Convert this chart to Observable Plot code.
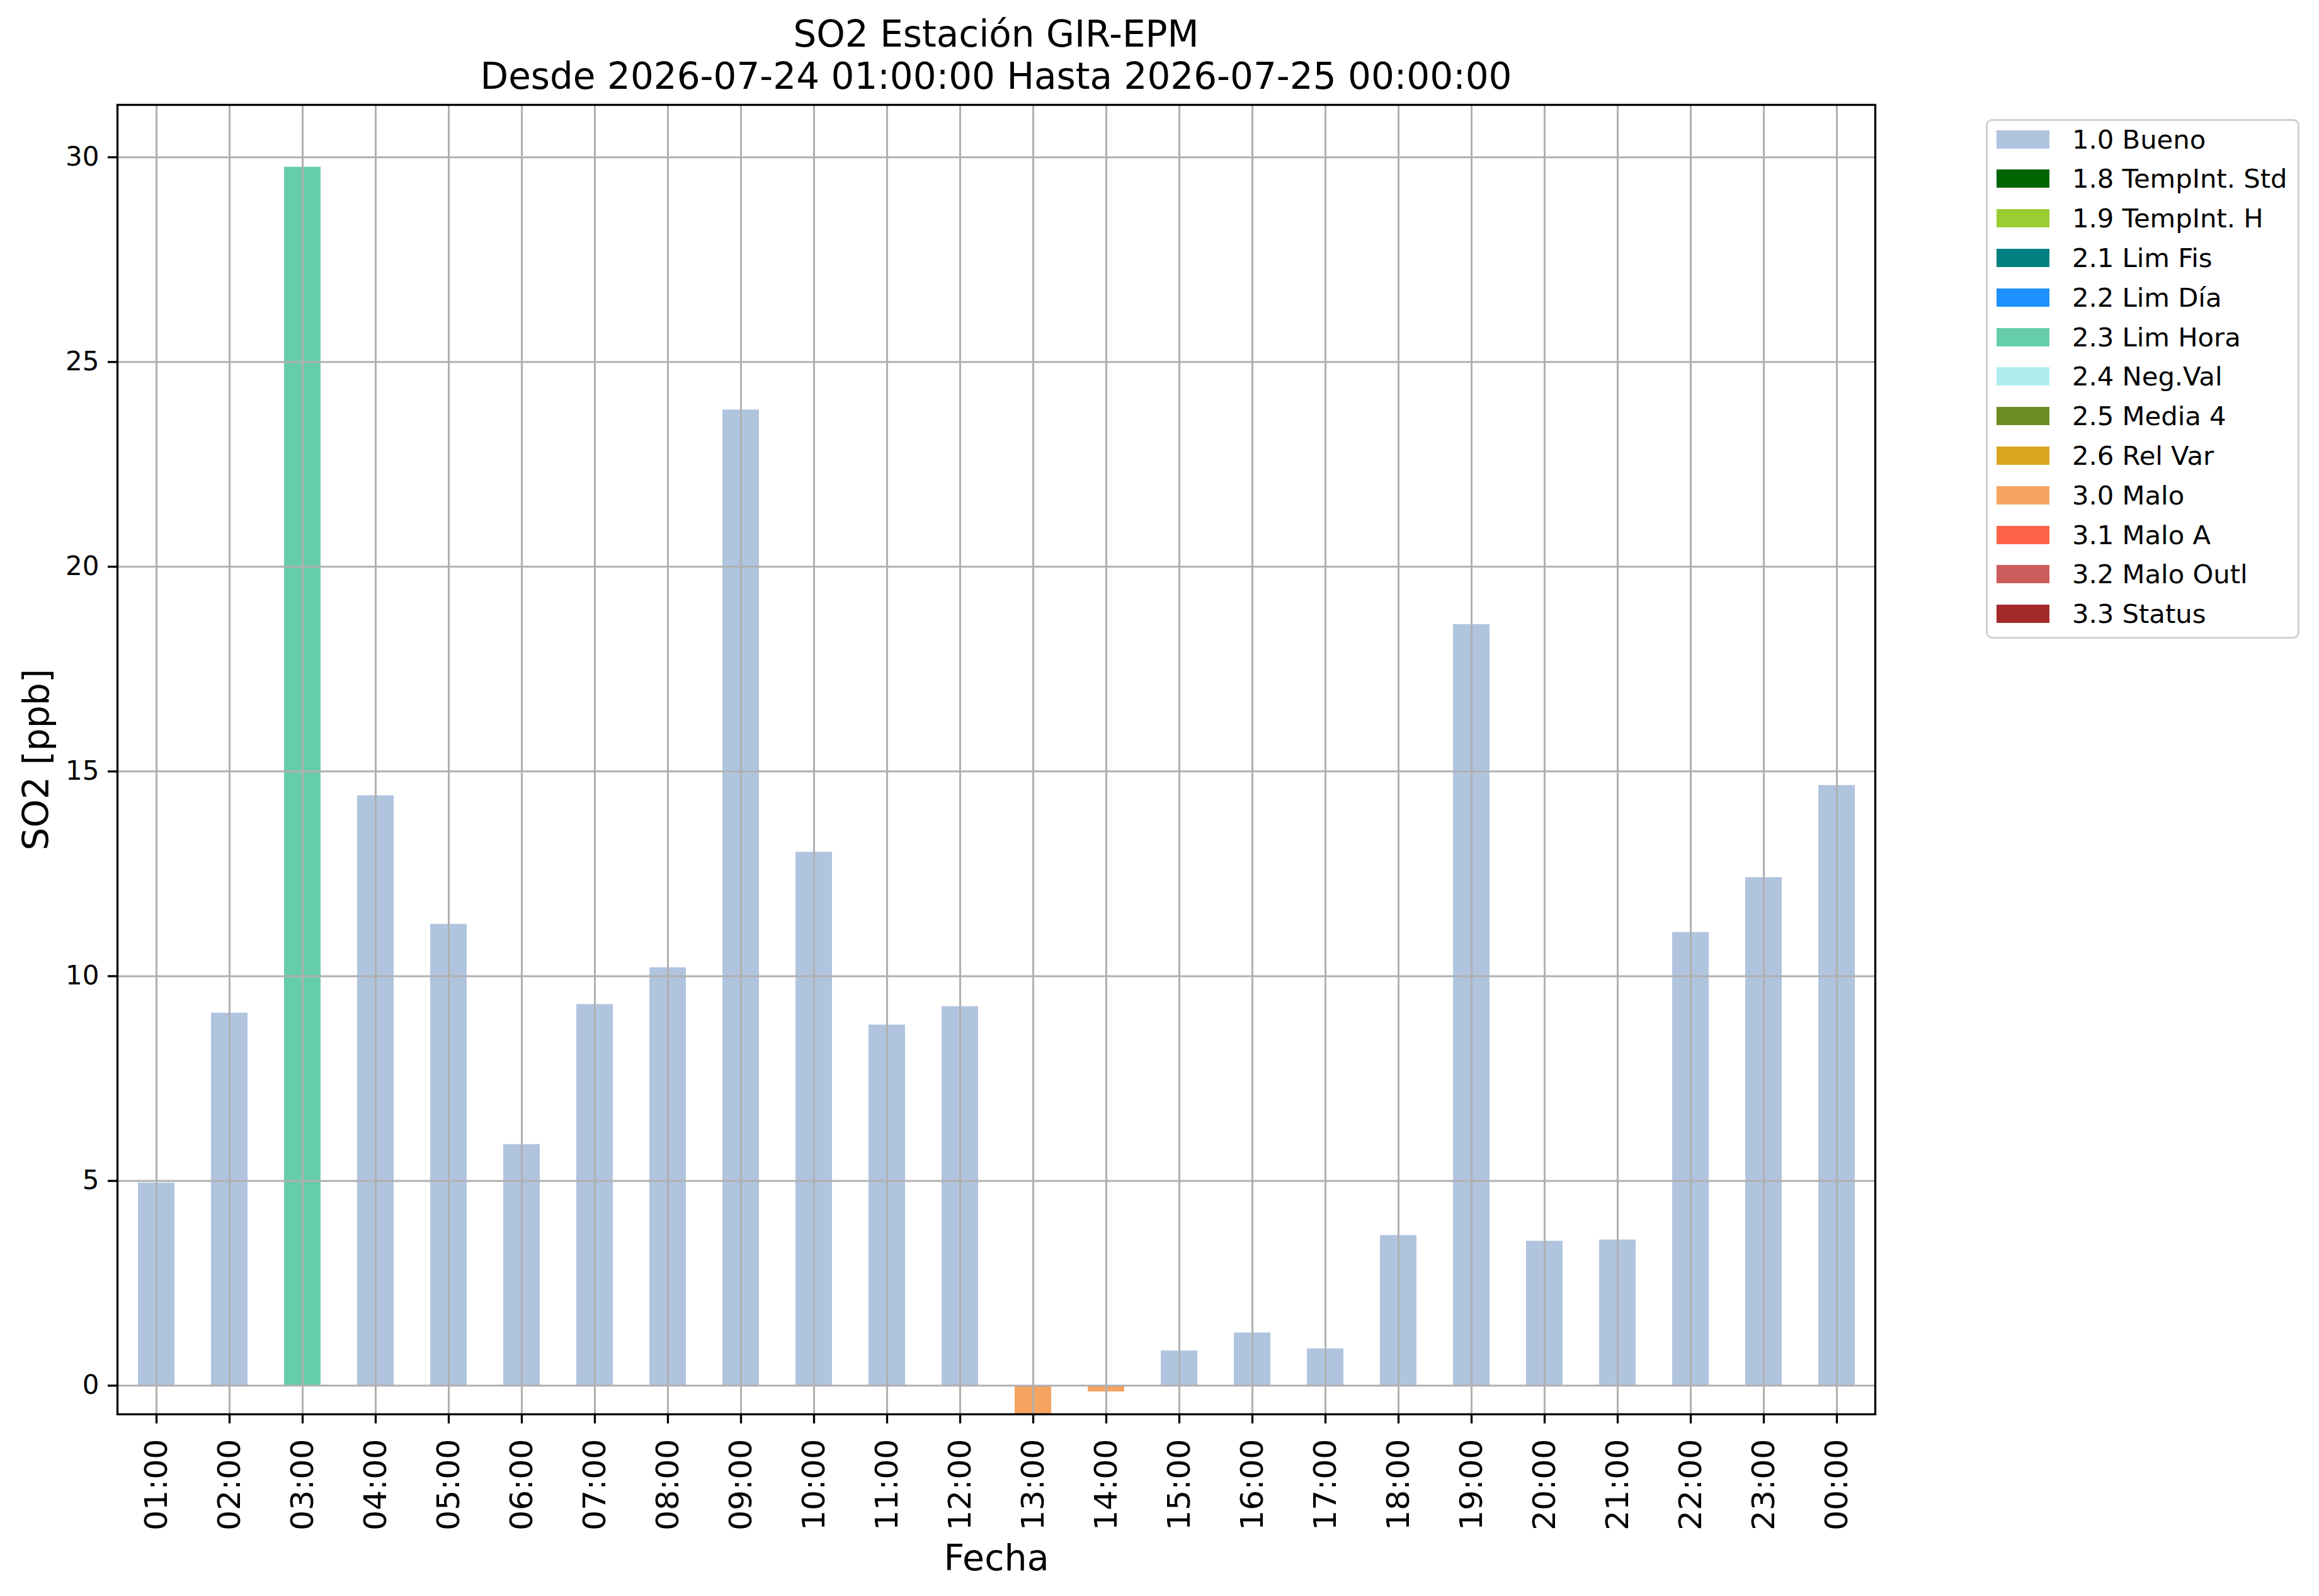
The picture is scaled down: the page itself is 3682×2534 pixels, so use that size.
<!DOCTYPE html>
<html>
<head>
<meta charset="utf-8">
<script src="https://cdn.jsdelivr.net/npm/d3@7"></script>
<script src="https://cdn.jsdelivr.net/npm/@observablehq/plot@0.6"></script>
<style>
  html, body { margin: 0; padding: 0; background: #fff; }
  body { width: 3682px; height: 2534px; position: relative; font-family: "DejaVu Sans", sans-serif; overflow: hidden; }
  #title { position: absolute; left: 0; top: 0; width: 3163px; text-align: center; font-size: 58px; line-height: 67px; padding-top: 21px; color: #000; }
  #chart { position: absolute; left: 0; top: 152px; }
  #legend { position: absolute; left: 3153px; top: 189px; width: 498px; height: 825px; border: 3px solid #d0d0d0; border-radius: 10px; box-sizing: border-box; background: #fff; }
  .item { position: absolute; left: 14px; height: 62px; display: flex; align-items: center; font-size: 41.7px; color: #000; white-space: nowrap; }
  .sw { width: 84px; height: 29px; margin-right: 36px; }
</style>
</head>
<body>
<div id="title"><div>SO2 Estación GIR-EPM</div><div>Desde 2026-07-24 01:00:00 Hasta 2026-07-25 00:00:00</div></div>
<div id="chart"></div>
<div id="legend"></div>
<script>
const hours = ["01:00","02:00","03:00","04:00","05:00","06:00","07:00","08:00","09:00","10:00","11:00","12:00",
               "13:00","14:00","15:00","16:00","17:00","18:00","19:00","20:00","21:00","22:00","23:00","00:00"];
const values = [4.95, 9.10, 29.76, 14.41, 11.27, 5.89, 9.31, 10.21, 23.83, 13.03, 8.81, 9.26,
                -1.2, -0.15, 0.85, 1.29, 0.90, 3.67, 18.59, 3.53, 3.56, 11.07, 12.41, 14.66];
const flags = ["1.0 Bueno","1.0 Bueno","2.3 Lim Hora","1.0 Bueno","1.0 Bueno","1.0 Bueno","1.0 Bueno","1.0 Bueno",
               "1.0 Bueno","1.0 Bueno","1.0 Bueno","1.0 Bueno","3.0 Malo","3.0 Malo","1.0 Bueno","1.0 Bueno",
               "1.0 Bueno","1.0 Bueno","1.0 Bueno","1.0 Bueno","1.0 Bueno","1.0 Bueno","1.0 Bueno","1.0 Bueno"];
const flagLabels = ["1.0 Bueno","1.8 TempInt. Std","1.9 TempInt. H","2.1 Lim Fis","2.2 Lim Día","2.3 Lim Hora",
                    "2.4 Neg.Val","2.5 Media 4","2.6 Rel Var","3.0 Malo","3.1 Malo A","3.2 Malo Outl","3.3 Status"];
const flagColors = ["#B0C4DE","#006400","#9ACD32","#008080","#1E90FF","#66CDAA",
                    "#AFEEEE","#6B8E23","#DAA520","#F4A460","#FF6347","#CD5C5C","#A52A2A"];
const yTicks = [0, 5, 10, 15, 20, 25, 30];
const yDomain = [-0.70, 31.28];
const yLabel = "SO2 [ppb]";
const xLabel = "Fecha";

const data = hours.map((h, i) => ({hour: h, value: values[i], flag: flags[i]}));

const W = 3682, H = 2534 - 152;
const plot = Plot.plot({
  width: W,
  height: H,
  marginLeft: 186,
  marginRight: 3682 - 2977,
  marginTop: 14,
  marginBottom: 2534 - 2245,
  style: {fontFamily: "DejaVu Sans, sans-serif", background: "#fff", color: "#000"},
  x: {type: "band", domain: hours, paddingInner: 0.5, paddingOuter: 0.25, axis: null},
  y: {domain: yDomain, axis: null},
  color: {domain: flagLabels, range: flagColors},
  marks: [
    Plot.barY(data, {x: "hour", y: "value", fill: "flag", clip: true}),
    Plot.gridY(yTicks, {stroke: "#b0b0b0", strokeOpacity: 1, strokeWidth: 3}),
    Plot.gridX(hours, {stroke: "#b0b0b0", strokeOpacity: 1, strokeWidth: 3}),
    Plot.frame({stroke: "#000", strokeWidth: 3.3}),
    Plot.axisY(yTicks, {tickSize: 15, tickPadding: 14, fontSize: 42, stroke: "#000", strokeWidth: 3.3, label: null, tickFormat: d => String(d)}),
    Plot.axisX(hours, {tickSize: 15, tickPadding: 24, fontSize: 50.5, tickRotate: -90, stroke: "#000", strokeWidth: 3.3, label: null}),
    Plot.text([yLabel], {frameAnchor: "left", dx: -128, rotate: -90, textAnchor: "middle", lineAnchor: "middle", fontSize: 57, fill: "#000"}),
    Plot.text([xLabel], {frameAnchor: "bottom", dy: 229, textAnchor: "middle", lineAnchor: "middle", fontSize: 57, fill: "#000"})
  ]
});
document.getElementById("chart").appendChild(plot);

const legend = document.getElementById("legend");
flagLabels.forEach((lab, i) => {
  const it = document.createElement("div");
  it.className = "item";
  it.style.top = (221 - 189 - 3 - 31 + i * 62.8) + "px";
  const sw = document.createElement("div");
  sw.className = "sw";
  sw.style.background = flagColors[i];
  const tx = document.createElement("span");
  tx.textContent = lab;
  it.appendChild(sw);
  it.appendChild(tx);
  legend.appendChild(it);
});
</script>
</body>
</html>
